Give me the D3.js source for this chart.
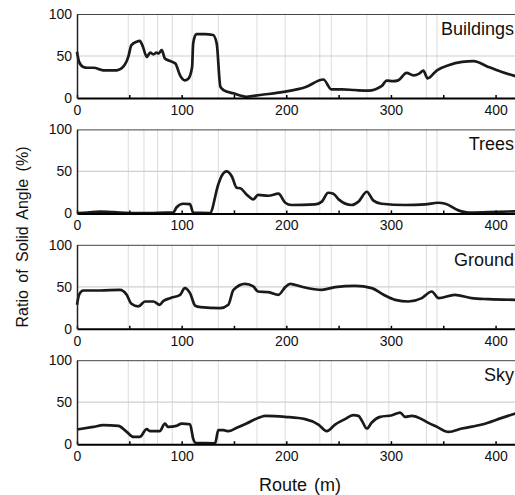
<!DOCTYPE html>
<html>
<head>
<meta charset="utf-8">
<script src="https://cdn.jsdelivr.net/npm/d3@7"></script>
<style>
  body { margin: 0; background: #fff; }
  svg { display: block; font-family: "Liberation Sans", Arial, sans-serif; }
</style>
</head>
<body>
<div id="chart"></div>
<script>
// route positions (m) where vertical landmark lines are drawn
var landmarkRoute = [49, 64, 77, 91, 110, 135, 172, 199, 232, 243, 277, 298, 334, 344];
var routeTicks = [0, 50, 100, 150, 200, 250, 300, 350, 400];
var ratioTicks = [0, 50, 100];
var panelNames = ["Buildings", "Trees", "Ground", "Sky"];

var buildingsRoute = [0, 2, 6, 10, 16, 25, 38, 44, 49, 52, 57, 60, 63, 66.6, 70, 73, 76, 78, 81, 84, 89, 94, 98.5, 103, 106.4, 110, 111, 114, 122, 130, 133.5, 137, 140, 149.5, 162, 175, 199, 218, 235.5, 243, 253, 265, 278.5, 291, 296, 302, 307, 315, 321.5, 327, 331, 335, 344, 355, 368, 379, 393, 406, 419];
var buildingsValue = [55, 43, 37, 36, 36, 33, 33, 37, 49, 63, 67, 68, 61, 49, 54, 52, 54, 53, 57, 47, 44, 41, 27, 21, 23, 37, 65, 76, 76, 75, 65, 13.5, 9.5, 5.6, 1.5, 3.6, 7.5, 12.7, 22, 10.3, 10.3, 9.5, 8.7, 14, 20.6, 20, 21, 30, 27, 29, 32.5, 23.4, 33, 39, 43, 44, 37, 31, 26];

var treesRoute = [0, 10, 22, 35, 50, 70, 85, 92, 95, 101.6, 108, 111, 127, 135, 138, 143, 148, 152.6, 156, 162, 168.5, 173, 183, 192.5, 199, 205, 227.5, 234, 240, 245, 250, 262.6, 269, 277, 283, 291, 313.6, 332.7, 345, 352, 364.5, 374, 393, 419];
var treesValue = [0.5, 1, 2, 1.5, 0.5, 0.5, 1, 1, 7, 11.5, 11, 1, 0.5, 34.5, 44, 50, 44, 30.5, 30, 22.6, 16.7, 22, 21, 23.5, 12.7, 10, 10.7, 14, 24.6, 23.5, 16.7, 10, 14, 25.8, 15.5, 11.5, 10, 10.7, 12.7, 11.5, 3.6, 1, 1.5, 2.5];

var groundRoute = [0, 2, 6, 22, 41, 47.5, 52, 58.6, 65, 73, 79, 82, 89, 98.5, 103, 108, 113, 118, 137, 144.6, 149.5, 160.6, 168.5, 173, 183, 192.5, 199, 203.6, 215, 234, 246.6, 265.8, 281.7, 293, 304, 316.7, 329.5, 339, 345.5, 361, 377, 393, 419];
var groundValue = [28.6, 40.5, 45.6, 45.6, 46.4, 40.5, 29.8, 26.6, 32.5, 32.5, 28.6, 32.5, 36.5, 40.5, 48.4, 42.5, 27.4, 25.8, 24.6, 28.6, 46.4, 53.6, 50.4, 44.4, 43.7, 40.5, 49.6, 53.6, 50, 46.4, 49.6, 51.2, 48.4, 40.5, 34.5, 32.5, 36.5, 44.4, 36.5, 40.5, 36.5, 35.3, 34.5];

var skyRoute = [0, 15.6, 25, 39.5, 47.5, 54, 60, 66.6, 70, 79, 84, 87, 95, 100, 108, 111, 113, 132, 135, 140, 144.6, 152.7, 162, 173, 180, 199, 218, 230.7, 238.7, 246.6, 256, 264, 269, 272, 277, 281.7, 289.7, 301, 308.8, 313.6, 320, 329.5, 334, 344, 355, 367.8, 387, 406, 419];
var skyValue = [17.5, 20.6, 22.6, 21.8, 14.7, 8.7, 8.7, 17.9, 15.5, 15.5, 24.6, 20.6, 21.8, 24.6, 23.8, 6.7, 1.5, 1, 16.7, 16.7, 15.5, 19.5, 24.6, 31.3, 33.7, 32.5, 29.8, 23.4, 15.5, 23.4, 29.8, 34.5, 33.7, 28.6, 18.7, 25.8, 32.5, 34.5, 37.7, 32.5, 33.7, 29.8, 26.6, 20.6, 14.7, 18.7, 23.4, 31.3, 36.5];

var seriesRoute = [buildingsRoute, treesRoute, groundRoute, skyRoute];
var seriesValue = [buildingsValue, treesValue, groundValue, skyValue];

var width = 515, height = 495;
var left = 77, right = 516.5;
var firstTop = 14, panelStep = 115.4, panelHeight = 84;

var svg = d3.select("#chart")
    .append("svg")
    .attr("width", width)
    .attr("height", height);

var x = d3.scaleLinear().domain([0, 420]).range([left, right]);

panelNames.forEach(function(name, i){
    var top = firstTop + i * panelStep;
    var y = d3.scaleLinear().domain([0, 100]).range([top + panelHeight, top]);
    var g = svg.append("g");

    // landmark lines
    g.selectAll("line.landmark")
        .data(landmarkRoute)
        .enter()
        .append("line")
        .attr("class", "landmark")
        .attr("x1", function(d){ return x(d); })
        .attr("x2", function(d){ return x(d); })
        .attr("y1", top)
        .attr("y2", top + panelHeight)
        .attr("stroke", "#dcdcdc")
        .attr("stroke-width", 1);

    // 50% line
    g.append("line")
        .attr("x1", left)
        .attr("x2", right)
        .attr("y1", y(50))
        .attr("y2", y(50))
        .attr("stroke", "#cfcfcf")
        .attr("stroke-width", 1.2);

    // top frame
    g.append("line")
        .attr("x1", left)
        .attr("x2", right)
        .attr("y1", top + 0.5)
        .attr("y2", top + 0.5)
        .attr("stroke", "#444")
        .attr("stroke-width", 1);

    var pts = seriesRoute[i].map(function(r, k){ return [r, seriesValue[i][k]]; });
    var line = d3.line()
        .x(function(d){ return x(d[0]); })
        .y(function(d){ return y(d[1]); })
        .curve(d3.curveMonotoneX);

    g.append("path")
        .datum(pts)
        .attr("d", line)
        .attr("fill", "none")
        .attr("stroke", "#1a1a1a")
        .attr("stroke-width", 2.7)
        .attr("stroke-linejoin", "round");

    var xAxis = g.append("g")
        .attr("transform", "translate(0," + (top + panelHeight) + ")")
        .call(d3.axisBottom(x)
            .tickValues(routeTicks)
            .tickSizeInner(-3)
            .tickSizeOuter(0)
            .tickPadding(7)
            .tickFormat(function(d){ return d % 100 === 0 ? d : ""; }));
    xAxis.select(".domain").attr("stroke", "#000").attr("stroke-width", 2);
    xAxis.selectAll(".tick line").attr("stroke", "#000").attr("stroke-width", 1.5);
    xAxis.selectAll("text").attr("font-size", 14).attr("fill", "#111").attr("font-family", null);

    var yAxis = g.append("g")
        .attr("transform", "translate(" + left + ",0)")
        .call(d3.axisLeft(y)
            .tickValues(ratioTicks)
            .tickSize(0)
            .tickPadding(5));
    yAxis.select(".domain").attr("stroke", "#222").attr("stroke-width", 1.5);
    yAxis.selectAll("text").attr("font-size", 14).attr("fill", "#111").attr("font-family", null);

    g.append("text")
        .attr("x", 514)
        .attr("y", top + 21)
        .attr("text-anchor", "end")
        .attr("font-size", 18)
        .attr("fill", "#111")
        .text(name);
});

svg.append("text")
    .attr("transform", "translate(28,237) rotate(-90)")
    .attr("text-anchor", "middle")
    .attr("font-size", 16)
    .attr("word-spacing", 3)
    .attr("fill", "#111")
    .text("Ratio of Solid Angle (%)");

svg.append("text")
    .attr("x", 300)
    .attr("y", 491)
    .attr("text-anchor", "middle")
    .attr("font-size", 18)
    .attr("word-spacing", 2)
    .attr("fill", "#111")
    .text("Route (m)");
</script>
</body>
</html>
